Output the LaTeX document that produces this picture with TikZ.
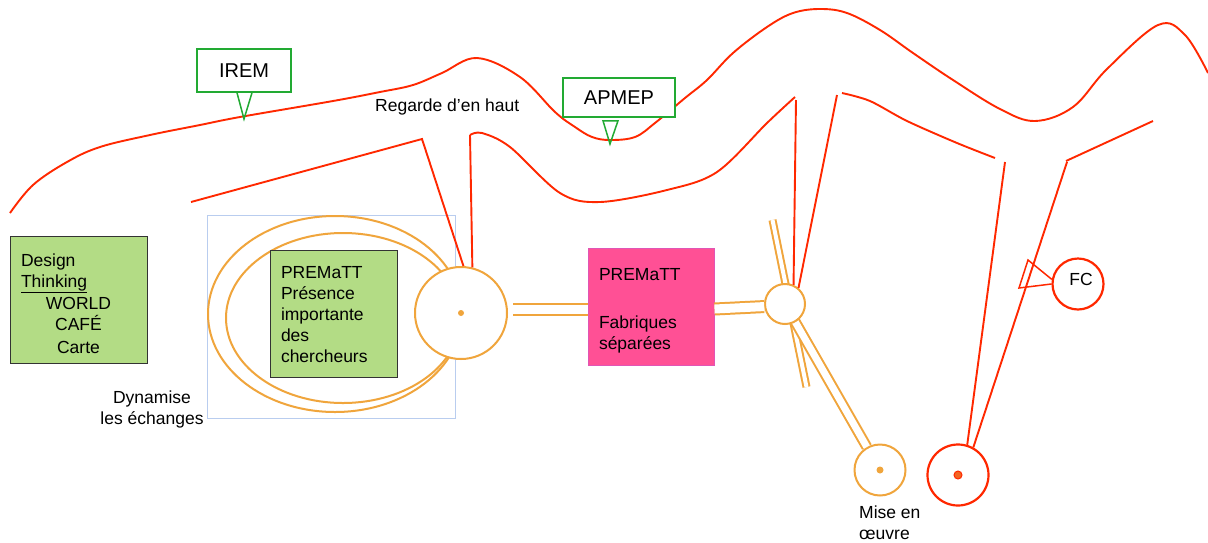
\documentclass[tikz,border=0pt]{standalone}
\usepackage{fontspec}
\setmainfont{Liberation Sans}
\usetikzlibrary{calc}
\definecolor{cRed}{RGB}{255,40,0}
\definecolor{cOrange}{RGB}{240,165,60}
\definecolor{cGreenFill}{RGB}{179,220,133}
\definecolor{cPink}{RGB}{255,80,149}
\definecolor{cPinkBorder}{RGB}{224,85,181}
\definecolor{cGreen}{RGB}{34,170,51}
\definecolor{cBlue}{RGB}{185,205,239}
\definecolor{cDot}{RGB}{242,101,34}
\begin{document}
\begin{tikzpicture}[x=1pt,y=-1pt,
  txt/.style={font=\fontsize{17.5}{21}\selectfont, inner sep=0pt},
  redl/.style={draw=cRed, line width=1.9pt},
  orl/.style={draw=cOrange, line width=2pt},
  ordouble/.style={draw=cOrange, line width=2pt, double=white, double distance=9pt},
  greenl/.style={draw=cGreen, line width=1.5pt},
  gbox/.style={rectangle, draw=black!80, line width=1pt, fill=cGreenFill, inner ysep=0pt, inner xsep=11pt, font=\fontsize{17.5}{21}\selectfont},
  pbox/.style={rectangle, draw=cPinkBorder, line width=1pt, fill=cPink, inner ysep=0pt, inner xsep=11pt, font=\fontsize{17.5}{21}\selectfont},
  cbox/.style={rectangle, draw=cGreen, line width=1.5pt, fill=white, inner sep=0pt, font=\fontsize{20}{24}\selectfont},
  orcirc/.style={circle, draw=cOrange, line width=2pt, fill=white, inner sep=0pt},
  redcirc/.style={circle, draw=cRed, line width=2.2pt, fill=white, inner sep=0pt},
  ordot/.style={circle, fill=cOrange, inner sep=0pt, minimum size=6pt},
  reddot/.style={circle, fill=cDot, draw=cRed, line width=1pt, inner sep=0pt, minimum size=8pt}
]
\useasboundingbox[fill=white] (0,0) rectangle (1208,542);

% ---------- top red curves ----------
\draw[redl] plot[smooth, tension=0.6] coordinates {(10,213) (33,185) (67,162) (100,147) (150,135) (200,125) (240,117) (333,101) (380,92) (413,85) (442,73) (477,58) (520,77) (555,112) (575,127) (592,137) (610,140) (635,137) (655,123) (685,98) (707,80) (733,53) (767,27) (793,13) (820,9) (847,13) (880,30) (913,53) (953,80) (1000,109) (1035,121) (1073,107) (1107,69) (1158,25) (1185,35) (1208,73)};

\draw[redl] plot[smooth, tension=0.55] coordinates {(470,135) (482,133) (510,147) (560,193) (600,202) (667,190) (717,172) (767,123) (795,97)};
\draw[redl] plot[smooth, tension=0.5] coordinates {(842,93) (870,101) (907,121) (957,143) (995,158)};
\draw[redl] (1066,161) -- (1153,121);

% ---------- blue frame and ellipses ----------
\draw[draw=cBlue, line width=0.9pt] (207,215) rectangle (455,418);
\draw[orl] (335,314) ellipse [x radius=127pt, y radius=98pt];
\draw[orl] (343,318) ellipse [x radius=117pt, y radius=85pt];

% ---------- boxes ----------
\node[gbox, minimum width=137pt, minimum height=127pt, text width=115pt, align=center] (design) at (78.5,299.5)
  {\raisebox{-4pt}[\height][\depth]{\parbox{115pt}{\centering
   \makebox[115pt][l]{Design}\\ \makebox[115pt][l]{\underline{Thinking}}\\[1pt] WORLD\\ CAFÉ\\[2pt] Carte}}};
\node[gbox, minimum width=127pt, minimum height=127pt, text width=105pt, align=left] (prem1) at (333.5,313.5)
  {\raisebox{-1.5pt}[\height][\depth]{\parbox{105pt}{\raggedright PREMaTT\\ Présence\\ importante\\ des\\ chercheurs}}};
\node[pbox, minimum width=126pt, minimum height=117pt, text width=104pt, align=left] (prem2) at (651,306.5)
  {\raisebox{-4pt}[\height][\depth]{\parbox{104pt}{\raggedright PREMaTT\\[27pt] Fabriques\\ séparées}}};

\node[cbox, minimum width=94pt, minimum height=43pt] (irem) at (244,70.5) {IREM};
\node[cbox, minimum width=112pt, minimum height=39pt] (apmep) at (619,97.5) {APMEP};
\coordinate (iremtip) at (244,119);
\coordinate (aptip) at (610,144);
\draw[greenl] ($(irem.south)+(-7,0)$) -- (iremtip) -- ($(irem.south)+(8,0)$);
\draw[greenl] ($(apmep.south)+(-16,3)$) -- (aptip) -- ($(apmep.south)+(-1,3)$) -- cycle;

% ---------- texts ----------
\node[txt, anchor=west] (regarde) at (375,107) {Regarde d’en haut};
\node[txt, align=center] (dyn) at (152,409) {Dynamise\\les échanges};
\node[txt, align=left, anchor=north west] (mise-txt) at (859,506) {Mise en\\œuvre};

% ---------- circle positions ----------
\coordinate (bigpos) at (461,313);
\coordinate (hubpos) at (785,304);
\coordinate (hubT) at (772.5,220);
\coordinate (hubB) at (806.5,387);

% orange double lines behind circles
\draw[ordouble, double distance=4pt] (hubT) -- (hubB);

\node[orcirc, minimum size=51pt] (mise) at (880,470) {};
\node[redcirc, minimum size=61pt] (rc) at (958,475) {};
\node[redcirc, minimum size=51pt] (fc) at (1078,284) {};
\node[txt] (fclabel) at (1081,279) {FC};

\draw[ordouble, double distance=7pt] (hubpos) -- (mise);

\node[orcirc, minimum size=92pt] (big) at (bigpos) {};
\node[orcirc, minimum size=40pt] (hub) at (hubpos) {};

\coordinate (bp) at (513,309.5);
\draw[ordouble] (bp) -- (bp -| prem2.west);
\draw[ordouble] (prem2.east |- 0,309) -- (hub.187);

\node[ordot] (bigdot) at (big) {};
\node[ordot, minimum size=7pt] (misedot) at (mise) {};
\node[reddot] (rcdot) at (rc) {};

% ---------- red connectors ----------
\coordinate (r1) at (422,139);
\coordinate (r2) at (470,135);
\coordinate (r3) at (796,100);
\coordinate (r4) at (837,95);
\coordinate (r5) at (1005,162);
\coordinate (r6) at (1067,162);
\draw[redl] (191,202) -- (r1) -- (big.87);
\draw[redl] (r2) -- (big.76);
\draw[redl] (r3) -- (hub.66);
\draw[redl] (r4) -- (hub.50);
\draw[redl] (r5) -- (rc.73);
\draw[redl] (r6) -- (rc.61);

% FC callout
\draw[redl, line width=1.5pt] (fc.170) -- (1028,260) -- (1019,288) -- (fc.west);
\end{tikzpicture}
\end{document}
